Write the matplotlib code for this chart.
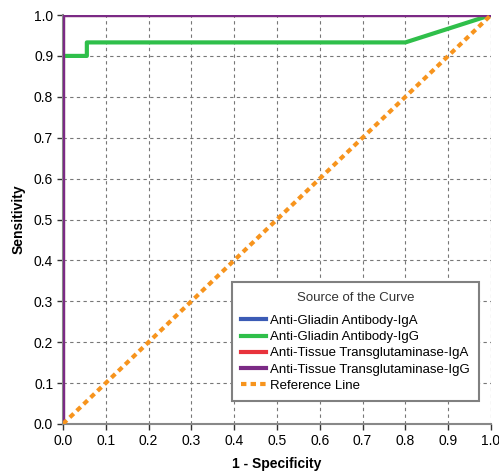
import matplotlib

matplotlib.use("Agg")
import matplotlib.pyplot as plt
import numpy as np

plt.rcParams["font.family"] = ["Liberation Sans", "DejaVu Sans"]

# ROC curves (1 - specificity, sensitivity)
aga_iga_x = [0.0, 0.0, 1.0]
aga_iga_y = [0.0, 1.0, 1.0]
aga_igg_x = [0.0, 0.0, 0.056, 0.056, 0.8, 1.0]
aga_igg_y = [0.0, 0.9, 0.9, 0.933, 0.933, 1.0]
ttg_iga_x = [0.0, 0.0, 1.0]
ttg_iga_y = [0.0, 1.0, 1.0]
ttg_igg_x = [0.0, 0.0, 1.0]
ttg_igg_y = [0.0, 1.0, 1.0]
ref_x = [0.0, 1.0]
ref_y = [0.0, 1.0]

labels = [
    "Anti-Gliadin Antibody-IgA",
    "Anti-Gliadin Antibody-IgG",
    "Anti-Tissue Transglutaminase-IgA",
    "Anti-Tissue Transglutaminase-IgG",
    "Reference Line",
]
ticks = np.round(np.arange(0, 1.01, 0.1), 1)

fig = plt.figure(figsize=(4.99, 4.72), dpi=100, facecolor="white")
ax = fig.add_axes([0.126, 0.1017, 0.858, 0.8665])

ax.plot(aga_iga_x, aga_iga_y, color="#3b5bb5", lw=3, label=labels[0], zorder=3)
ax.plot(aga_igg_x, aga_igg_y, color="#2fbf4a", lw=3, label=labels[1], zorder=3)
ax.plot(ttg_iga_x, ttg_iga_y, color="#e8333c", lw=3, label=labels[2], zorder=3)
ax.plot(ttg_igg_x, ttg_igg_y, color="#7b2a85", lw=3, label=labels[3], zorder=4)
ax.plot(ref_x, ref_y, color="#f7941d", lw=3, ls=(0, (1.3, 1.0)), label=labels[4], zorder=5)

ax.set_xlim(0, 1)
ax.set_ylim(0, 1)
ax.set_xticks(ticks)
ax.set_yticks(ticks)
ax.set_xticklabels([f"{t:.1f}" for t in ticks], fontsize=10)
ax.set_yticklabels([f"{t:.1f}" for t in ticks], fontsize=10)
ax.tick_params(direction="out", length=4, width=1, color="#333333", pad=3)
ax.grid(True, ls=(0, (3, 3)), color="#777777", lw=0.8)
ax.set_axisbelow(True)

for spine in ("top", "right"):
    ax.spines[spine].set_visible(False)
for spine in ("left", "bottom"):
    ax.spines[spine].set_color("#888888")
    ax.spines[spine].set_linewidth(1.5)

ax.set_xlabel("1 - Specificity", fontsize=10, fontweight="bold", labelpad=7)
ax.set_ylabel("Sensitivity", fontsize=10, fontweight="bold", labelpad=6)

leg = ax.legend(
    title="Source of the Curve",
    loc="lower left",
    bbox_to_anchor=(0.38, 0.04),
    fontsize=9.5,
    title_fontsize=9.5,
    frameon=True,
    fancybox=False,
    handlelength=1.9,
    handletextpad=0.3,
    labelspacing=0.3,
    borderpad=0.7,
)
leg.get_title().set_color("#333333")
leg._legend_box.sep = 8
leg.get_frame().set_edgecolor("#808080")
leg.get_frame().set_linewidth(1.5)
leg.get_frame().set_alpha(1)
leg.set_zorder(10)

fig.savefig("out.png", dpi=100, facecolor="white")
